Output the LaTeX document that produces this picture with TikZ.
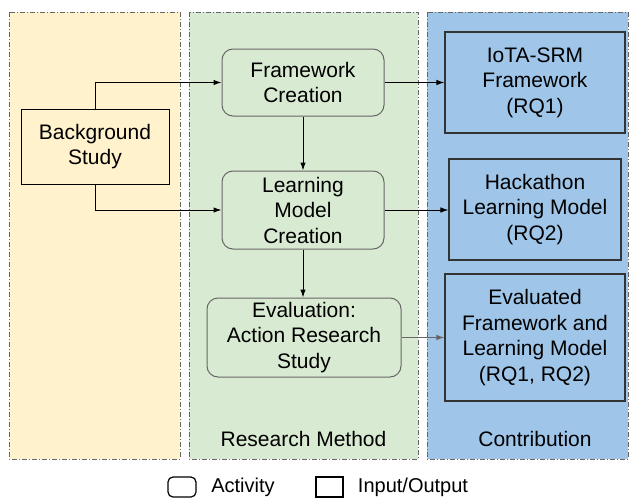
\documentclass[tikz,border=0pt]{standalone}
\usepackage{fontspec}
\setmainfont{Liberation Sans}
\usetikzlibrary{arrows.meta}
\definecolor{cOrange}{HTML}{FFF2CC}
\definecolor{cGreen}{HTML}{D9EAD3}
\definecolor{cBlue}{HTML}{9FC5E8}
\definecolor{cGrayLine}{HTML}{666666}
\definecolor{cDark}{HTML}{333333}
\tikzset{
  region/.style={draw=cGrayLine, line width=0.9pt, dash pattern=on 5pt off 2pt on 1pt off 2pt},
  txt/.style={font=\fontsize{21}{25.5}\selectfont, align=center, inner sep=0pt, text=black},
  activity/.style={txt, draw=cGrayLine, line width=1pt, rounded corners=11pt, fill=cGreen},
  iobox/.style={txt, draw=cDark, line width=1.1pt, fill=cBlue},
  arr/.style={-{Latex[length=8pt,width=5.5pt]}, line width=1pt, black},
  garr/.style={-{Latex[length=8pt,width=5.5pt]}, line width=1pt, cGrayLine},
  legtxt/.style={font=\fontsize{20}{24}\selectfont, inner sep=0pt},
}
\begin{document}
\begin{tikzpicture}[x=1pt,y=-1pt]
\useasboundingbox (0,0) rectangle (635,498);
% regions
\draw[region, fill=cOrange] (9,12) rectangle (180,459);
\draw[region, fill=cGreen] (189,12) rectangle (418,459);
\draw[region, fill=cBlue] (427,12) rectangle (628,459);
\node[txt] (lblrm) at (303.5,439) {Research Method};
\node[txt] (lblco) at (535,439) {Contribution};
% nodes
\node[txt, draw=black, line width=1pt, fill=cOrange, minimum width=148pt, minimum height=75pt] (bg) at (95,146.5) {Background\\Study};
\node[activity, minimum width=162pt, minimum height=67pt] (fw) at (303,82.5) {Framework\\Creation};
\node[activity, minimum width=162pt, minimum height=78pt] (lm) at (303,210) {Learning\\Model\\Creation};
\node[activity, minimum width=194pt, minimum height=79pt] (ev) at (304,337.5) {Evaluation:\\Action Research\\Study};
\node[iobox, minimum width=180pt, minimum height=101pt] (iota) at (535,82.5) {IoTA-SRM\\Framework\\(RQ1)};
\node[iobox, minimum width=172pt, minimum height=101pt] (hack) at (535,209.5) {Hackathon\\Learning Model\\(RQ2)};
\node[iobox, minimum width=180pt, minimum height=127pt] (evald) at (535,337.5) {Evaluated\\Framework and\\Learning Model\\(RQ1, RQ2)};
% connectors
\draw[arr] (bg.north) |- (fw.west);
\draw[arr] (bg.south) |- (lm.west);
\draw[arr] (fw.south) -- (lm.north);
\draw[arr] (lm.south) -- (lm.south |- ev.north);
\draw[arr] (fw.east) -- (iota.west);
\draw[arr] (lm.east) -- (lm.east -| hack.west);
\draw[garr] (ev.east) -- (ev.east -| evald.west);
% legend
\draw[line width=1.2pt, rounded corners=5pt] (168,477) rectangle (196,497);
\node[legtxt] (legact) at (243,487) {Activity};
\draw[line width=1.2pt] (316,477) rectangle (343,497);
\node[legtxt] (legio) at (413,487) {Input/Output};
\end{tikzpicture}
\end{document}
